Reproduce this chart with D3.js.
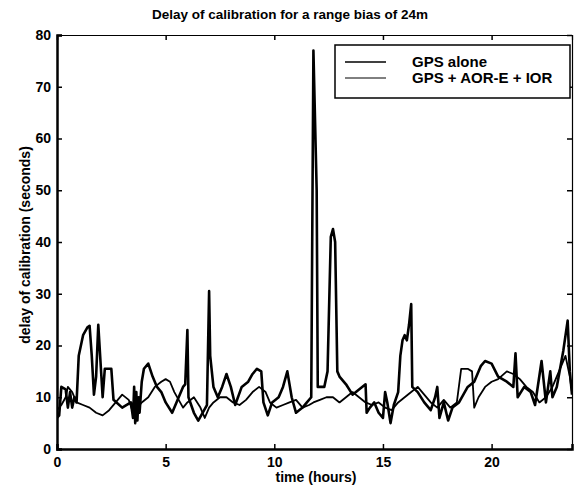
<!DOCTYPE html>
<html><head><meta charset="utf-8">
<script src="https://cdn.jsdelivr.net/npm/d3@7"></script>
<style>body{margin:0;background:#fff}svg{display:block}text{font-family:"Liberation Sans",Arial,sans-serif;fill:#000}</style>
</head><body>
<script>
const title = "Delay of calibration for a range bias of 24m";
const xLabel = "time (hours)";
const yLabel = "delay of calibration (seconds)";
const seriesNames = ["GPS alone", "GPS + AOR-E + IOR"];
const xTicks = [0, 5, 10, 15, 20];
const yTicks = [0, 10, 20, 30, 40, 50, 60, 70, 80];

const gpsAloneT = [0.0,0.1,0.2,0.4,0.5,0.6,0.7,0.8,0.9,1.0,1.2,1.4,1.5,1.6,1.7,1.8,1.9,2.0,2.1,2.2,2.5,2.6,3.0,3.4,3.5,3.55,3.6,3.65,3.7,3.75,3.8,3.9,4.0,4.2,4.4,4.6,4.8,5.0,5.3,5.6,5.8,5.9,6.0,6.05,6.3,6.5,6.7,6.9,7.0,7.05,7.2,7.4,7.6,7.8,8.0,8.2,8.5,8.8,9.0,9.2,9.4,9.5,9.7,9.9,10.2,10.4,10.6,10.8,11.0,11.3,11.5,11.7,11.8,11.95,12.0,12.3,12.45,12.6,12.7,12.8,12.9,13.0,13.3,13.6,13.9,14.2,14.25,14.4,14.6,14.8,15.0,15.1,15.2,15.35,15.5,15.7,15.8,15.9,16.0,16.1,16.2,16.3,16.35,16.6,16.9,17.2,17.4,17.5,17.6,17.8,18.0,18.2,18.5,18.7,18.9,19.2,19.5,19.7,20.0,20.3,20.7,21.0,21.1,21.2,21.5,21.8,22.0,22.3,22.5,22.7,22.8,23.0,23.3,23.5,23.6,23.7];
const gpsAloneV = [6,6.5,12,11.5,8,11,8,10,9,18,22,23.5,23.8,18,10.5,14,24,17,10,15.5,15.5,9.5,8,9,6,12,5,11,5.5,10,7,13,15.5,16.5,14,12,11,9,7,10,12,12.5,23,10,7,5.5,7,8.5,30.5,18,12,10,12,14.5,12,8.5,12,13,14.5,15.5,15,9,6.5,9,10,12,15,10,7,8,9,10,77,50,12,12,15,41,42.5,40,15,14,12.5,10.5,11.5,12.5,7,8,9,7,6,11,9,5,8.5,11,18,21,22,21,24,28,12,11,9,7.5,10,12,6,9,5.5,8,9,10.5,12,13,16,17,16.5,14,13,12,18.5,10,12,11,8.5,17,9,15,10,12,19,24.8,15,10.5];

const gpsGeoT = [0.0,0.2,0.4,0.5,0.7,0.9,1.2,1.5,1.8,2.1,2.4,2.7,3.0,3.3,3.5,3.7,3.9,4.2,4.5,4.8,5.0,5.2,5.4,5.6,5.8,6.0,6.3,6.6,6.8,7.0,7.2,7.5,7.8,8.1,8.4,8.7,9.0,9.3,9.6,9.8,10.1,10.4,10.7,11.0,11.3,11.6,11.8,12.1,12.4,12.7,13.0,13.3,13.6,13.9,14.2,14.5,14.8,15.1,15.4,15.7,16.0,16.3,16.6,16.9,17.2,17.5,17.8,18.1,18.4,18.6,18.9,19.1,19.2,19.4,19.7,20.0,20.3,20.7,21.0,21.3,21.6,21.9,22.2,22.5,22.8,23.1,23.4,23.6,23.7];
const gpsGeoV = [7.5,8.5,10,12,11,9,8.5,8,7,6.5,7.5,9,10.5,9.5,7,8,9,10,12,13,13.5,13,11,9.5,8,9,10,8,6,8,9,10,10,9,8.5,9.5,11,12,11,9,8,8.5,9,9.5,8,8.5,9,9.5,10,10,9,10,11,10,9,8.5,9,8,7.5,9,10,11,12,10.5,9,8,9.5,8,9,15.5,15.5,15,8,10,12,13,13.5,15,14.5,13.5,12,11,9,10,12,15,18,14,11];

const W = 574, H = 490;
const m = {left: 57, right: 2, top: 35, bottom: 41};
const svg = d3.select("body").append("svg").attr("width", W).attr("height", H);
const x = d3.scaleLinear().domain([0, 23.7]).range([m.left, W - m.right]);
const y = d3.scaleLinear().domain([0, 80]).range([H - m.bottom, m.top]);

svg.append("clipPath").attr("id","clip").append("rect")
  .attr("x", m.left).attr("y", m.top).attr("width", W - m.right - m.left).attr("height", H - m.bottom - m.top);

const line = d3.line().x(d => x(d[0])).y(d => y(d[1]));
const dA = gpsAloneT.map((t,i)=>[t, gpsAloneV[i]]);
const dB = gpsGeoT.map((t,i)=>[t, gpsGeoV[i]]);
const g = svg.append("g").attr("clip-path","url(#clip)");
g.append("path").datum(dB).attr("d", line).attr("fill","none").attr("stroke","#000").attr("stroke-width",1.8).attr("stroke-linejoin","round");
g.append("path").datum(dA).attr("d", line).attr("fill","none").attr("stroke","#000").attr("stroke-width",2.6).attr("stroke-linejoin","round");

const xAxis = d3.axisBottom(x).tickValues(xTicks).tickSize(-5).tickPadding(8).tickFormat(d3.format("d"));
const yAxis = d3.axisLeft(y).tickValues(yTicks).tickSize(-5).tickPadding(6).tickFormat(d3.format("d"));
const gx = svg.append("g").attr("transform", `translate(0,${H - m.bottom})`).call(xAxis);
const gy = svg.append("g").attr("transform", `translate(${m.left},0)`).call(yAxis);
[gx, gy].forEach(a => {
  a.selectAll("text").style("font-size","14px").style("font-weight","bold");
  a.selectAll("line").attr("stroke","#000").attr("stroke-width",1.5);
});
gx.select(".domain").attr("stroke","#000").attr("stroke-width",2.5);
gy.select(".domain").attr("stroke","#000").attr("stroke-width",2.5);
svg.append("g").attr("transform", `translate(0,${m.top})`).call(d3.axisTop(x).tickValues(xTicks).tickSize(-5).tickFormat(""))
  .call(a => { a.select(".domain").attr("stroke","#000").attr("stroke-width",1.2); a.selectAll("line").attr("stroke","#000").attr("stroke-width",1.5); });
svg.append("g").attr("transform", `translate(${W - m.right},0)`).call(d3.axisRight(y).tickValues(yTicks).tickSize(-5).tickFormat(""))
  .call(a => { a.select(".domain").attr("stroke","#000").attr("stroke-width",1.2); a.selectAll("line").attr("stroke","#000").attr("stroke-width",1.5); });

svg.append("text").attr("x", 290).attr("y", 19).attr("text-anchor","middle")
  .style("font-size","13.5px").style("font-weight","bold").text(title);
svg.append("text").attr("x", 316).attr("y", 482).attr("text-anchor","middle")
  .style("font-size","14px").style("font-weight","bold").text(xLabel);
svg.append("text").attr("transform","translate(30,245) rotate(-90)").attr("text-anchor","middle")
  .style("font-size","14px").style("font-weight","bold").text(yLabel);

const lg = svg.append("g");
lg.append("rect").attr("x",335).attr("y",45).attr("width",235).attr("height",53)
  .attr("fill","#fff").attr("stroke","#000").attr("stroke-width",1.5);
const legY = [62, 78];
seriesNames.forEach((n,i) => {
  lg.append("line").attr("x1",345).attr("x2",386).attr("y1",legY[i]).attr("y2",legY[i])
    .attr("stroke","#000").attr("stroke-width", i===0 ? 1.6 : 1.0);
  lg.append("text").attr("x",412).attr("y",legY[i]+5).style("font-size","15px").style("font-weight","bold").text(n);
});
</script>
</body></html>
